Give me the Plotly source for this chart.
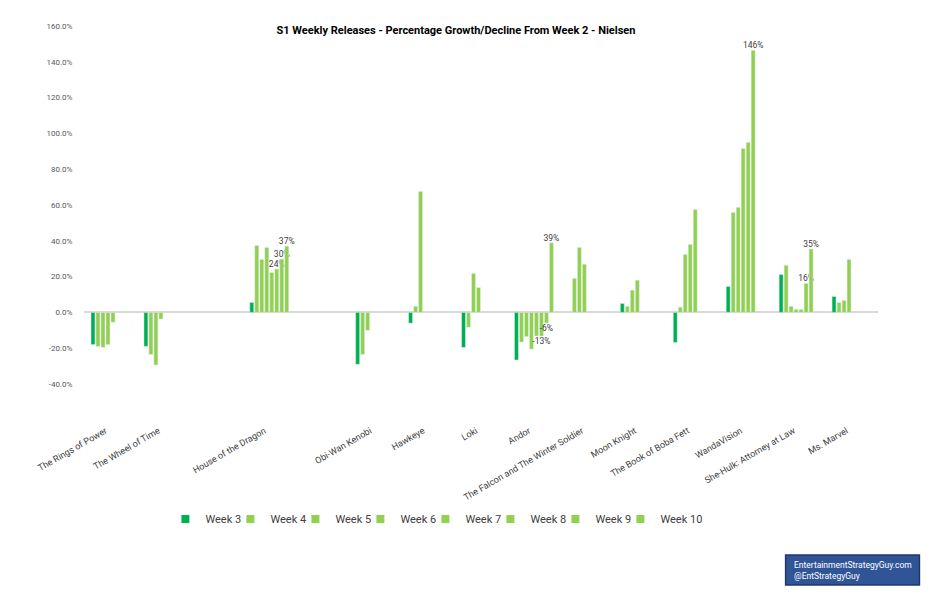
import plotly.graph_objects as go

FONT = "Roboto, Liberation Sans, sans-serif"

categories = [
    "The Rings of Power", "The Wheel of Time", " ", "House of the Dragon", "  ",
    "Obi-Wan Kenobi", "Hawkeye", "Loki", "Andor", "The Falcon and The Winter Soldier",
    "Moon Knight", "The Book of Boba Fett", "WandaVision", "She-Hulk: Attorney at Law",
    "Ms. Marvel",
]

week3 = [-18.0, -19.0, None, 5.6, None, -29.0, -6.0, -19.6, -26.6, None, 5.0, -16.8, 14.5, 21.2, 8.9]
week4 = [-19.0, -23.5, None, 37.4, None, -23.5, 3.4, -8.3, -16.6, 19.0, 3.4, 2.9, 55.9, 26.3, 5.6]
week5 = [-19.5, -29.4, None, 29.6, None, -10.0, 67.6, 21.7, -13.5, 36.3, 12.4, 32.4, 58.7, 3.4, 6.7]
week6 = [-18.0, -3.7, None, 36.3, None, None, None, 13.9, -20.5, 26.9, 18.0, 38.0, 91.6, 1.7, 29.6]
week7 = [-5.5, None, None, 22.3, None, None, None, None, -13.2, None, None, 57.5, 95.0, 1.7, None]
week8 = [None, None, None, 24.2, None, None, None, None, -13.2, None, None, None, 146.4, 16.2, None]
week9 = [None, None, None, 29.8, None, None, None, None, -6.0, None, None, None, None, 35.4, None]
week10 = [None, None, None, 37.0, None, None, None, None, 38.9, None, None, None, None, None, None]

series_names = ["Week 3", "Week 4", "Week 5", "Week 6", "Week 7", "Week 8", "Week 9", "Week 10"]
series_values = [week3, week4, week5, week6, week7, week8, week9, week10]
series_colors = ["#00B050"] + ["#92D050"] * 7

# which (show, week) points carry a data label
labelled = {
    "House of the Dragon": ["Week 8", "Week 9", "Week 10"],
    "Andor": ["Week 8", "Week 9", "Week 10"],
    "WandaVision": ["Week 8"],
    "She-Hulk: Attorney at Law": ["Week 8", "Week 9"],
}

y_tickvals = [-40, -20, 0, 20, 40, 60, 80, 100, 120, 140, 160]
y_ticktext = ["-40.0%", "-20.0%", "0.0%", "20.0%", "40.0%", "60.0%", "80.0%",
              "100.0%", "120.0%", "140.0%", "160.0%"]


def font(size, color="#404040"):
    return dict(family=FONT, size=size, color=color)


fig = go.Figure()
for name, vals, col in zip(series_names, series_values, series_colors):
    texts = []
    for cat, v in zip(categories, vals):
        if v is not None and name in labelled.get(cat, []):
            texts.append(f"{round(v):d}%")
        else:
            texts.append("")
    fig.add_trace(go.Bar(
        x=categories, y=vals, name=name, marker_color=col,
        text=texts, textposition="outside", constraintext="none",
        textfont=font(8.5),
        cliponaxis=False, showlegend=False, legendgroup=name,
        hoverinfo="x+y+name",
    ))
    fig.add_trace(go.Scatter(
        x=[None], y=[None], mode="markers", name=name, legendgroup=name,
        marker=dict(symbol="square", size=8, color=col), showlegend=True,
        legendwidth=45 if name == "Week 10" else None,
    ))

# plot area geometry in pixels
W, H = 937, 603
L, R = 83.5, 878.5
T, B = 26.0, 415.0
Y_TOP, Y_LOW, Y_LOW_PX = 160.0, -40.0, 384.0
PX_PER_UNIT = (Y_LOW_PX - T) / (Y_TOP - Y_LOW)
Y_MIN = Y_LOW - (B - Y_LOW_PX) / PX_PER_UNIT


def px(x):
    return (x - L) / (R - L)


def py(y):
    return (B - y) / (B - T)


fig.update_layout(
    width=W, height=H, autosize=False,
    margin=dict(l=L, r=W - R, t=T, b=H - B, pad=0),
    paper_bgcolor="white", plot_bgcolor="white",
    barmode="group", bargap=0.245, bargroupgap=0.2,
    font=font(10),
    title=dict(
        text="<b>S1 Weekly Releases - Percentage Growth/Decline From Week 2 - Nielsen</b>",
        x=456 / W, xanchor="center", y=1 - 30 / H, yanchor="middle",
        font=font(11, "#000000"),
    ),
    xaxis=dict(
        type="category", categoryorder="array", categoryarray=categories,
        showgrid=False, showline=False, ticks="", tickangle=-30,
        tickfont=font(9), ticklabelstandoff=8, ticklabelshift=-5,
        range=[-0.5, len(categories) - 0.5],
    ),
    yaxis=dict(
        range=[Y_MIN, Y_TOP], tickvals=y_tickvals, ticktext=y_ticktext,
        showgrid=False, showline=False, zeroline=True,
        zerolinecolor="#D9D9D9", zerolinewidth=1.5,
        ticks="outside", ticklen=9, tickcolor="rgba(0,0,0,0)",
        tickfont=font(8, "#595959"),
    ),
    legend=dict(
        orientation="h", x=px(165), xanchor="left", y=py(519), yanchor="middle",
        entrywidth=20, entrywidthmode="pixels",
        font=font(11),
        bgcolor="rgba(0,0,0,0)",
    ),
    shapes=[dict(
        type="rect", xref="paper", yref="paper",
        x0=px(786), x1=px(920), y0=py(555), y1=py(585),
        fillcolor="#2F5597", line=dict(color="#1F3864", width=1.5), layer="above",
    )],
    annotations=[dict(
        xref="paper", yref="paper", x=px(792), y=py(570), xanchor="left", yanchor="middle",
        text="EntertainmentStrategyGuy.com<br>@EntStrategyGuy", align="left", showarrow=False,
        font=font(8.5, "#FFFFFF"),
    )],
)

fig.write_html("out.html", config={"displayModeBar": False},
               post_script="document.body.style.margin='0px';")
